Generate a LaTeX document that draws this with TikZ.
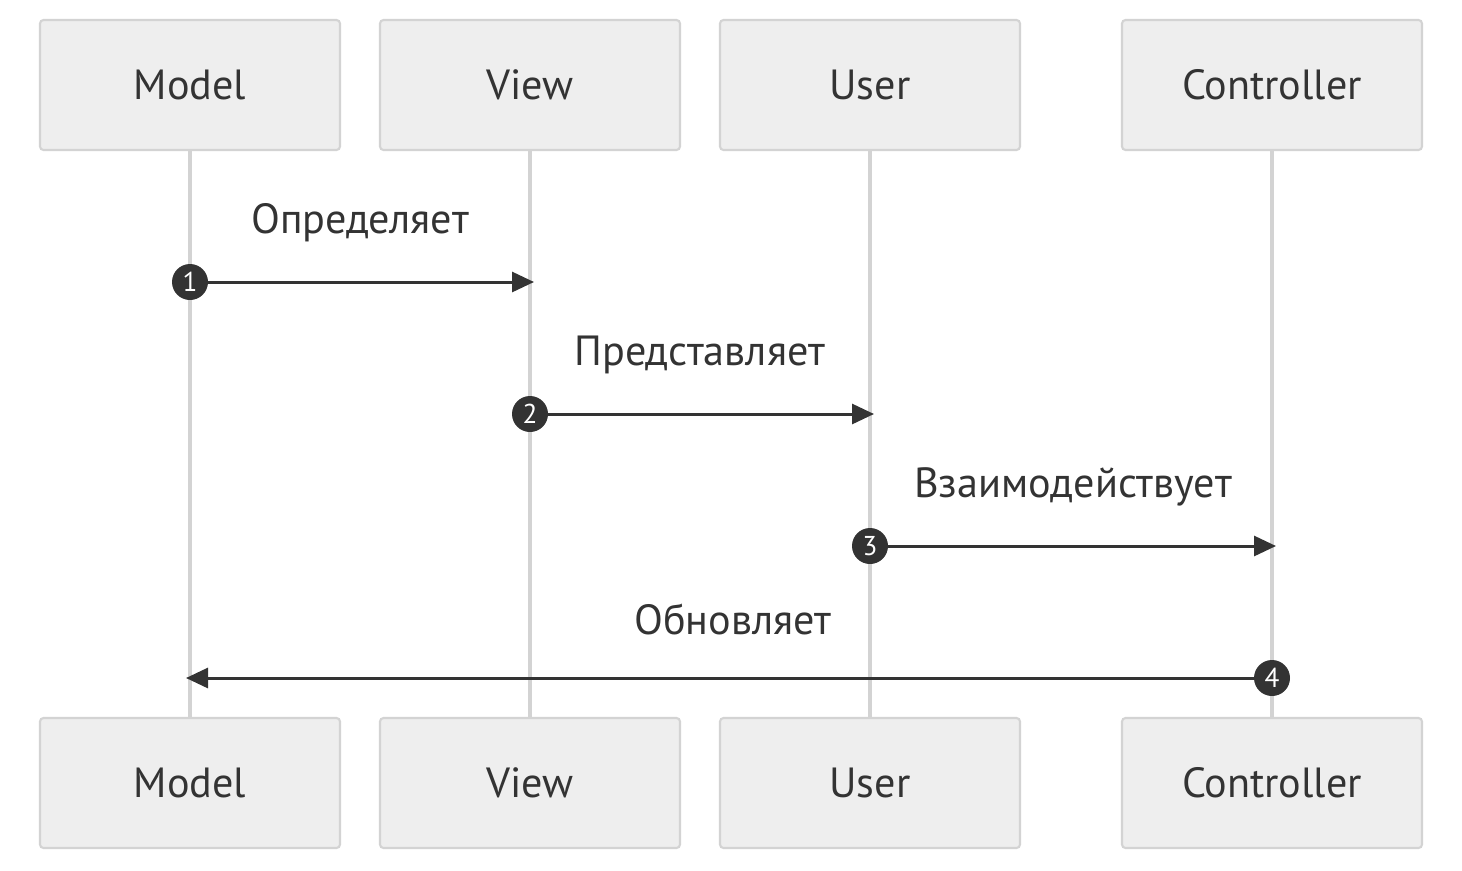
\documentclass[tikz,border=0pt]{standalone}
\usepackage{fontspec}
\setmainfont{PT Sans}
\usepackage{tikz}
\usetikzlibrary{arrows.meta}
\definecolor{boxfill}{HTML}{EEEEEE}
\definecolor{boxline}{HTML}{D3D3D3}
\definecolor{ink}{HTML}{333333}

\begin{document}
\begin{tikzpicture}[
      acteur/.style={
        rectangle,
        rounded corners=2pt,
        draw=boxline,
        line width=1.2pt,
        fill=boxfill,
        text=ink,
        minimum width=6cm,
        minimum height=2.6cm,
        font=\fontsize{24}{28}\selectfont
      },
      nummer/.style={
        circle,
        fill=ink,
        text=white,
        inner sep=0pt,
        minimum size=0.72cm,
        font=\fontsize{15.5}{17}\selectfont
      },
      bericht/.style={
        text=ink,
        font=\fontsize{24}{28}\selectfont
      },
      leven/.style={boxline, line width=2.3pt},
      pijl/.style={ink, line width=1.7pt, -{Triangle[length=0.44cm,width=0.4cm]}}
    ]
      \useasboundingbox (0,0) rectangle (29.24,-17.4);

      \node (m1) at (3.8,-1.7) [acteur]{Model};
      \node (v1) at (10.6,-1.7) [acteur]{View};
      \node (u1) at (17.4,-1.7) [acteur]{User};
      \node (c1) at (25.44,-1.7) [acteur]{Controller};
      \node (m2) at (3.8,-15.66) [acteur]{Model};
      \node (v2) at (10.6,-15.66) [acteur]{View};
      \node (u2) at (17.4,-15.66) [acteur]{User};
      \node (c2) at (25.44,-15.66) [acteur]{Controller};

      \draw[leven] (m1) -- (m2);
      \draw[leven] (v1) -- (v2);
      \draw[leven] (u1) -- (u2);
      \draw[leven] (c1) -- (c2);

      \node (n1) at (3.8,-5.64) [nummer]{1};
      \node (n2) at (10.6,-8.28) [nummer]{2};
      \node (n3) at (17.4,-10.92) [nummer]{3};
      \node (n4) at (25.44,-13.56) [nummer]{4};

      \coordinate (t1) at (10.68,-5.64);
      \coordinate (t2) at (17.48,-8.28);
      \coordinate (t3) at (25.52,-10.92);
      \coordinate (t4) at (3.72,-13.56);

      \node (b1) at (7.2,-4.46) [bericht]{Определяет};
      \node (b2) at (14.0,-7.1) [bericht]{Представляет};
      \node (b3) at (21.46,-9.74) [bericht]{Взаимодействует};
      \node (b4) at (14.66,-12.38) [bericht]{Обновляет};

      \draw[pijl] (n1) -- (t1);
      \draw[pijl] (n2) -- (t2);
      \draw[pijl] (n3) -- (t3);
      \draw[pijl] (n4) -- (t4);

    \end{tikzpicture}
\end{document}
